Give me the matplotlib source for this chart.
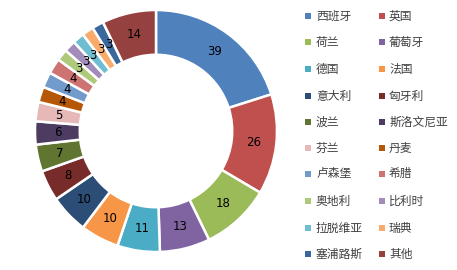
import matplotlib
matplotlib.use("Agg")
import matplotlib.pyplot as plt
from matplotlib.patches import Rectangle

categories = ["西班牙", "英国", "荷兰", "葡萄牙", "德国", "法国", "意大利", "匈牙利",
              "波兰", "斯洛文尼亚", "芬兰", "丹麦", "卢森堡", "希腊", "奥地利", "比利时",
              "拉脱维亚", "瑞典", "塞浦路斯", "其他"]
values = [39, 26, 18, 13, 11, 10, 10, 8, 7, 6, 5, 4, 4, 4, 3, 3, 3, 3, 3, 14]
colors = ["#4F81BD", "#C0504D", "#9BBB59", "#8064A2", "#4BACC6", "#F79646",
          "#2C4D75", "#772C2A", "#5F7530", "#4D3B62", "#E6B9B8", "#B65708",
          "#729ACA", "#CD7371", "#AFC97A", "#A48CBA", "#6FBDD1", "#F9AB6B",
          "#3A679C", "#954140"]

W, H = 457, 270
fig = plt.figure(figsize=(W / 100, H / 100), dpi=100)
fig.patch.set_facecolor("white")

cx, cy, R = 156, 131, 121
ax = fig.add_axes([(cx - R) / W, (H - cy - R) / H, 2 * R / W, 2 * R / H])
ring = 0.37
wedges, texts = ax.pie(values, colors=colors, startangle=90, counterclock=False,
                       labels=[str(v) for v in values], labeldistance=1 - ring / 2,
                       wedgeprops=dict(width=ring, edgecolor="white", linewidth=1.8),
                       textprops=dict(fontsize=8.5, color="black", ha="center", va="center",
                                      family="DejaVu Sans"))
for t in texts:
    t.set_ha("center")
    t.set_va("center")
ax.set_xlim(-1, 1)
ax.set_ylim(-1, 1)
ax.set_aspect("equal")

# legend, row-wise two columns
col_mx = [305, 379]
col_tx = [316, 389]
row_y = [16, 42, 69, 96, 122, 148, 174, 201, 228, 254]
for i, (name, c) in enumerate(zip(categories, colors)):
    col, row = i % 2, i // 2
    y = row_y[row]
    fig.patches.append(Rectangle((col_mx[col] / W, (H - y - 3) / H), 6 / W, 6 / H,
                                 transform=fig.transFigure, facecolor=c, edgecolor="none"))
    fig.text(col_tx[col] / W, (H - y) / H, name, ha="left", va="center",
             fontsize=8.5, color="#404040",
             family=["Noto Sans CJK SC", "DejaVu Sans"])

fig.savefig("out.png", dpi=100)
